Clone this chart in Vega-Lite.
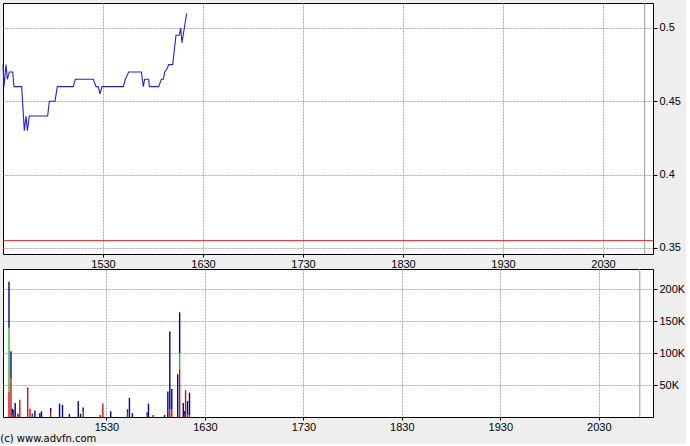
{
  "$schema": "https://vega.github.io/schema/vega-lite/v6.json",
  "background": "#EEEEEE",
  "padding": {"left": 0, "top": 2, "right": 0, "bottom": 0},
  "bounds": "flush",
  "spacing": 15,
  "title": {"text": "(c) www.advfn.com", "orient": "bottom", "anchor": "start", "font": "DejaVu Sans", "fontSize": 10, "fontWeight": "normal", "color": "#000000", "offset": 1},
  "datasets": {
    "price": [
      {"t": 870, "p": 0.475}, {"t": 870.6, "p": 0.46}, {"t": 871.8, "p": 0.475}, {"t": 872.6, "p": 0.465},
      {"t": 873.8, "p": 0.47}, {"t": 875.8, "p": 0.47}, {"t": 876.6, "p": 0.46}, {"t": 881.2, "p": 0.46},
      {"t": 882.8, "p": 0.43}, {"t": 883.8, "p": 0.44}, {"t": 884.6, "p": 0.43}, {"t": 885.8, "p": 0.44},
      {"t": 896.8, "p": 0.44}, {"t": 897.8, "p": 0.45}, {"t": 901.2, "p": 0.45}, {"t": 902.6, "p": 0.46},
      {"t": 912.2, "p": 0.46}, {"t": 913.4, "p": 0.465}, {"t": 924.2, "p": 0.465}, {"t": 925.8, "p": 0.46},
      {"t": 927.2, "p": 0.46}, {"t": 928.2, "p": 0.455}, {"t": 929.4, "p": 0.46}, {"t": 942.2, "p": 0.46},
      {"t": 943.4, "p": 0.465}, {"t": 945.4, "p": 0.47}, {"t": 953, "p": 0.47}, {"t": 954.2, "p": 0.46},
      {"t": 955, "p": 0.465}, {"t": 957.4, "p": 0.465}, {"t": 957.8, "p": 0.46}, {"t": 963.4, "p": 0.46},
      {"t": 965, "p": 0.465}, {"t": 966.2, "p": 0.465}, {"t": 967, "p": 0.47}, {"t": 968.6, "p": 0.4725},
      {"t": 969.4, "p": 0.475}, {"t": 971.8, "p": 0.475}, {"t": 973.8, "p": 0.495}, {"t": 975.8, "p": 0.495},
      {"t": 976.6, "p": 0.5}, {"t": 977.4, "p": 0.49}, {"t": 980.2, "p": 0.51}
    ],
    "ref": [{"p": 0.355}],
    "close": [{"t": 1255}],
    "vol": [
      {"t": 870.6, "v": 40000, "k": "sell", "o": 1}, {"t": 870.6, "v": 100000, "k": "unk", "o": 2}, {"t": 870.6, "v": 72000, "k": "buy", "o": 3},
      {"t": 871.8, "v": 61000, "k": "sell", "o": 1}, {"t": 871.8, "v": 42000, "k": "buy", "o": 3},
      {"t": 872.6, "v": 4000, "k": "sell", "o": 1}, {"t": 872.6, "v": 9000, "k": "buy", "o": 3},
      {"t": 873.4, "v": 8000, "k": "sell", "o": 1}, {"t": 873.4, "v": 3000, "k": "buy", "o": 3},
      {"t": 874.4, "v": 22000, "k": "buy", "o": 3},
      {"t": 876, "v": 5000, "k": "buy", "o": 3},
      {"t": 877.2, "v": 27000, "k": "sell", "o": 1},
      {"t": 882, "v": 43000, "k": "sell", "o": 1}, {"t": 882, "v": 3000, "k": "buy", "o": 3},
      {"t": 883.4, "v": 13000, "k": "sell", "o": 1},
      {"t": 884.8, "v": 3000, "k": "sell", "o": 1}, {"t": 884.8, "v": 2000, "k": "buy", "o": 3},
      {"t": 886.4, "v": 10000, "k": "buy", "o": 3},
      {"t": 889.4, "v": 6000, "k": "buy", "o": 3},
      {"t": 890.4, "v": 9000, "k": "buy", "o": 3},
      {"t": 896, "v": 8000, "k": "sell", "o": 1}, {"t": 896, "v": 6000, "k": "buy", "o": 3},
      {"t": 901.4, "v": 21000, "k": "buy", "o": 3},
      {"t": 903.2, "v": 19000, "k": "buy", "o": 3},
      {"t": 907.4, "v": 5000, "k": "buy", "o": 3},
      {"t": 912.8, "v": 25000, "k": "buy", "o": 3},
      {"t": 914.2, "v": 5000, "k": "buy", "o": 3},
      {"t": 915.8, "v": 9000, "k": "sell", "o": 1}, {"t": 915.8, "v": 6000, "k": "buy", "o": 3},
      {"t": 926.2, "v": 3000, "k": "sell", "o": 1},
      {"t": 927.8, "v": 21000, "k": "sell", "o": 1},
      {"t": 932.6, "v": 9000, "k": "buy", "o": 3},
      {"t": 942.8, "v": 8000, "k": "sell", "o": 1}, {"t": 942.8, "v": 4000, "k": "buy", "o": 3},
      {"t": 944, "v": 30000, "k": "buy", "o": 3},
      {"t": 945.8, "v": 6000, "k": "buy", "o": 3},
      {"t": 954.8, "v": 3000, "k": "sell", "o": 1}, {"t": 954.8, "v": 4000, "k": "buy", "o": 3},
      {"t": 955.6, "v": 21000, "k": "buy", "o": 3},
      {"t": 958.4, "v": 3000, "k": "sell", "o": 1},
      {"t": 965.4, "v": 3000, "k": "buy", "o": 3},
      {"t": 967.4, "v": 40000, "k": "buy", "o": 3},
      {"t": 968.6, "v": 12000, "k": "sell", "o": 1}, {"t": 968.6, "v": 122000, "k": "buy", "o": 3},
      {"t": 969.8, "v": 12000, "k": "sell", "o": 1}, {"t": 969.8, "v": 32000, "k": "buy", "o": 3},
      {"t": 973.4, "v": 67000, "k": "buy", "o": 3},
      {"t": 974.6, "v": 75000, "k": "sell", "o": 1}, {"t": 974.6, "v": 25000, "k": "unk", "o": 2}, {"t": 974.6, "v": 64000, "k": "buy", "o": 3},
      {"t": 976.8, "v": 22000, "k": "buy", "o": 3},
      {"t": 977.6, "v": 4000, "k": "sell", "o": 1}, {"t": 977.6, "v": 5000, "k": "buy", "o": 3},
      {"t": 978.2, "v": 42000, "k": "sell", "o": 1},
      {"t": 979.4, "v": 4000, "k": "sell", "o": 1}, {"t": 979.4, "v": 21000, "k": "buy", "o": 3},
      {"t": 980.6, "v": 3000, "k": "sell", "o": 1}, {"t": 980.6, "v": 35000, "k": "buy", "o": 3}
    ]
  },
  "config": {
    "view": {"fill": "white", "stroke": "#000000", "strokeWidth": 1},
    "axis": {
      "labelFont": "Liberation Sans", "labelFontSize": 11, "labelColor": "#000000",
      "domain": false, "tickColor": "#000000", "gridColor": "#ABABAB", "gridDash": [2, 1], "gridWidth": 1
    },
    "axisX": {"tickSize": 3, "labelPadding": 1},
    "axisY": {"tickSize": 4, "labelPadding": 2}
  },
  "vconcat": [
    {
      "width": 650,
      "height": 251,
      "layer": [
        {
          "data": {"name": "close"},
          "mark": {"type": "rule", "color": "#999999", "strokeWidth": 1},
          "encoding": {
            "x": {"field": "t", "type": "quantitative", "title": null}
          }
        },
        {
          "data": {"name": "ref"},
          "mark": {"type": "rule", "color": "#DD2222", "strokeWidth": 1},
          "encoding": {
            "y": {"field": "p", "type": "quantitative", "title": null}
          }
        },
        {
          "data": {"name": "price"},
          "mark": {"type": "line", "color": "#2323CF", "strokeWidth": 1.1, "interpolate": "linear"},
          "encoding": {
            "x": {"field": "t", "type": "quantitative", "title": null,
              "scale": {"domain": [870, 1260], "nice": false, "zero": false},
              "axis": {"values": [930, 990, 1050, 1110, 1170, 1230], "labelExpr": "floor(datum.value/60)*100 + datum.value%60", "grid": true}},
            "y": {"field": "p", "type": "quantitative", "title": null,
              "scale": {"domain": [0.3459, 0.517], "nice": false, "zero": false},
              "axis": {"orient": "right", "values": [0.35, 0.4, 0.45, 0.5], "format": ".2~f", "grid": true}}
          }
        }
      ]
    },
    {
      "width": 650,
      "height": 148,
      "layer": [
        {
          "data": {"name": "close"},
          "mark": {"type": "rule", "color": "#999999", "strokeWidth": 1},
          "encoding": {
            "x": {"field": "t", "type": "quantitative", "title": null}
          }
        },
        {
          "data": {"name": "vol"},
          "mark": {"type": "bar", "size": 1.4},
          "encoding": {
            "x": {"field": "t", "type": "quantitative", "title": null,
              "scale": {"domain": [870, 1260], "nice": false, "zero": false},
              "axis": {"values": [930, 990, 1050, 1110, 1170, 1230], "labelExpr": "floor(datum.value/60)*100 + datum.value%60", "grid": true}},
            "y": {"field": "v", "type": "quantitative", "title": null, "stack": "zero",
              "scale": {"domain": [0, 232000], "nice": false},
              "axis": {"orient": "right", "values": [50000, 100000, 150000, 200000], "labelExpr": "datum.value/1000 + 'K'", "grid": true}},
            "color": {"field": "k", "type": "nominal", "legend": null,
              "scale": {"domain": ["sell", "unk", "buy"], "range": ["#CC1111", "#22BB22", "#000099"]}},
            "order": {"field": "o", "type": "quantitative"}
          }
        }
      ]
    }
  ]
}
